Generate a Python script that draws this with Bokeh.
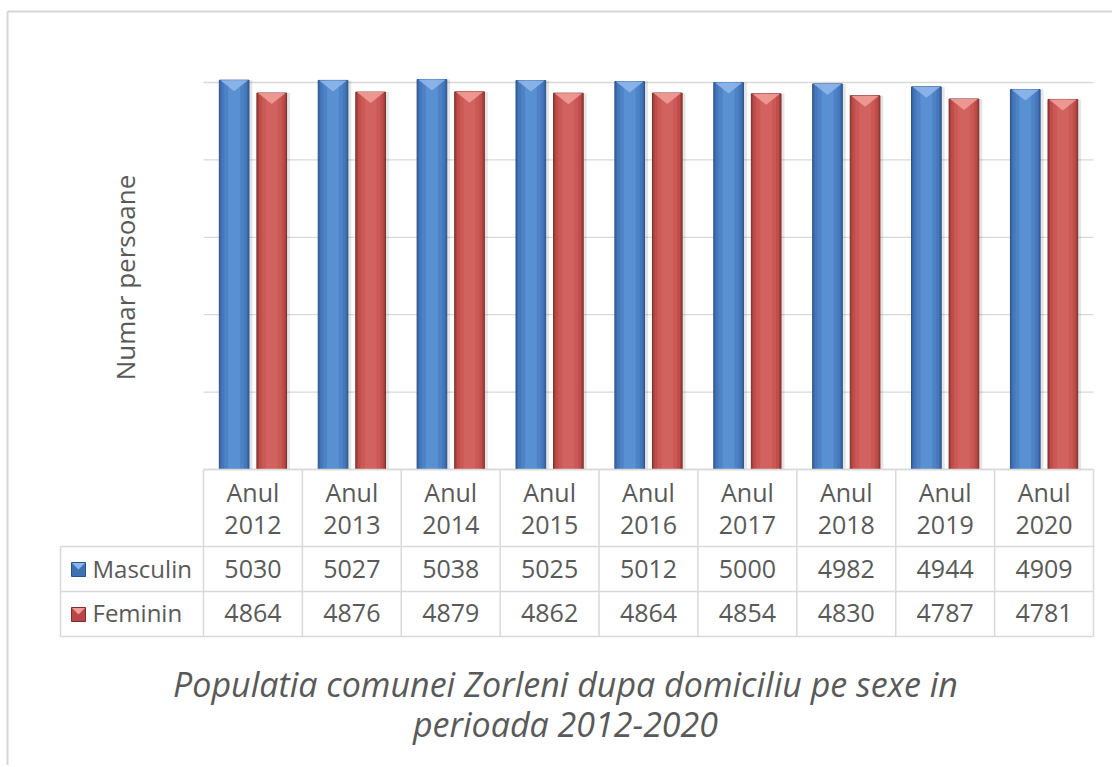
import math
from bokeh.plotting import figure
from bokeh.models import Range1d, ColumnDataSource
from bokeh.embed import file_html
from bokeh.resources import INLINE
from bokeh.core.properties import value

# ---------------- data ----------------
years = ["2012", "2013", "2014", "2015", "2016", "2017", "2018", "2019", "2020"]
header_word = "Anul"
masculin = [5030, 5027, 5038, 5025, 5012, 5000, 4982, 4944, 4909]
feminin = [4864, 4876, 4879, 4862, 4864, 4854, 4830, 4787, 4781]
series_names = ["Masculin", "Feminin"]
grid_values = [0, 1000, 2000, 3000, 4000, 5000]
y_title = "Numar persoane"
title_lines = ["Populatia comunei Zorleni dupa domiciliu pe sexe in", "perioada 2012-2020"]

# ---------------- layout (canvas pixels) ----------------
W, H = 1112, 765
PL, PR = 203, 1093          # plot area left / right
BASE, TOPPX, TOPV = 469, 82, 5000
PXU = (BASE - TOPPX) / TOPV  # px per data unit (y)
n = len(years)
UX = (PR - PL) / n           # px per category
X0 = -0.5 - PL / UX
X1 = X0 + W / UX
Y0 = -(H - BASE) / PXU
Y1 = BASE / PXU


def dy(cy):
    return (BASE - cy) / PXU


def dx(cx):
    return X0 + cx / UX


TXT = "#595959"
LINE = "#d9d9d9"
FONT = "Open Sans"

p = figure(width=W, height=H, output_backend="svg", toolbar_location=None,
           x_range=Range1d(X0, X1), y_range=Range1d(Y0, Y1),
           min_border=0, min_border_left=0, min_border_right=0,
           min_border_top=0, min_border_bottom=0)
p.axis.visible = False
p.grid.visible = False
p.outline_line_color = None
p.background_fill_color = "white"
p.border_fill_color = "white"

# chart border (top / left)
p.segment(x0=[dx(7), dx(7)], y0=[dy(11), dy(11)], x1=[dx(W), dx(7)], y1=[dy(11), dy(H)],
          line_color="#d6d6d6", line_width=2)

# gridlines
gsrc = ColumnDataSource(dict(y=grid_values))
p.segment(x0=-0.5, x1=n - 0.5, y0="y", y1="y", source=gsrc, line_color=LINE, line_width=1.3)

idx = list(range(n))
OFF = 0.19
BW = 0.30


def draw_bars(xs, vals, layers, outline, top_col):
    src = ColumnDataSource(dict(x=xs, top=vals, xs_sh=[v + 0.025 for v in xs]))
    # soft shadow
    p.vbar(x="xs_sh", top="top", bottom=0, width=BW + 0.02, source=src,
           fill_color="#000000", fill_alpha=0.10, line_color=None)
    for i, (w, c) in enumerate(layers):
        p.vbar(x="x", top="top", bottom=0, width=w, source=src, fill_color=c,
               line_color=outline if i == 0 else None, line_width=1)
    d = 11 / PXU
    tri_x = [[x - BW / 2 + 0.01, x + BW / 2 - 0.01, x] for x in xs]
    tri_y = [[t, t, t - d] for t in vals]
    p.patches(xs=tri_x, ys=tri_y, fill_color=top_col, fill_alpha=0.9, line_color=None)


draw_bars([i - OFF for i in idx], masculin,
          [(BW, "#3a67a8"), (0.26, "#4577bb"), (0.20, "#4e82c6"), (0.12, "#5990d2")],
          "#2d5286", "#8db6ea")
draw_bars([i + OFF for i in idx], feminin,
          [(BW, "#a33f3c"), (0.26, "#bf4d4a"), (0.20, "#ca5855"), (0.12, "#d2625f")],
          "#7e2d2b", "#f09c98")

# ---------------- data table ----------------
ROW_TOP = 469
ROW_H1 = 546
ROW_M = 591
ROW_F = 636
LEG_L = 60
# horizontal lines
p.segment(x0=[-0.5, dx(LEG_L), dx(LEG_L), dx(LEG_L)], x1=[n - 0.5] * 4,
          y0=[dy(ROW_TOP), dy(ROW_H1), dy(ROW_M), dy(ROW_F)],
          y1=[dy(ROW_TOP), dy(ROW_H1), dy(ROW_M), dy(ROW_F)],
          line_color=LINE, line_width=1.5)
# vertical lines
vx = [k - 0.5 for k in range(n + 1)]
p.segment(x0=vx, x1=vx, y0=dy(ROW_TOP), y1=dy(ROW_F), line_color=LINE, line_width=1.5)
p.segment(x0=[dx(LEG_L)], x1=[dx(LEG_L)], y0=[dy(ROW_H1)], y1=[dy(ROW_F)],
          line_color=LINE, line_width=1.5)

tsrc = ColumnDataSource(dict(x=idx, anul=[header_word] * n, yr=years,
                             m=[str(v) for v in masculin], f=[str(v) for v in feminin]))
common = dict(text_font=value(FONT), text_font_size="25px", text_color=TXT,
              text_align="center", text_baseline="middle", source=tsrc)
p.text(x="x", y=dy(491), text="anul", **common)
p.text(x="x", y=dy(524), text="yr", **common)
p.text(x="x", y=dy(568), text="m", **common)
p.text(x="x", y=dy(612), text="f", **common)

# legend keys
p.rect(x=[dx(78)] * 2, y=[dy(569), dy(614)], width=14, height=14,
       width_units="screen", height_units="screen",
       fill_color=["#3f70b3", "#b8464a"], line_color=["#2d5286", "#7e2d2b"])
p.patches(xs=[[dx(71.5), dx(84.5), dx(78)]] * 2,
          ys=[[dy(562.5), dy(562.5), dy(569)], [dy(607.5), dy(607.5), dy(614)]],
          fill_color=["#8db6ea", "#f09c98"], line_color=None)
p.text(x=[dx(92)] * 2, y=[dy(568), dy(612)], text=series_names,
       text_font=value(FONT), text_font_size="24px", text_color=TXT,
       text_align="left", text_baseline="middle")

# y-axis title
p.text(x=[dx(124)], y=[dy(277)], text=[y_title], angle=math.pi / 2,
       text_font=value(FONT), text_font_size="26px", text_color=TXT,
       text_align="center", text_baseline="middle")

# chart title
p.text(x=[dx(565)] * 2, y=[dy(683), dy(723)], text=title_lines,
       text_font=value(FONT), text_font_style="italic", text_font_size="34px",
       text_color=TXT, text_align="center", text_baseline="middle")

open("out.html", "w").write(file_html(p, INLINE))
